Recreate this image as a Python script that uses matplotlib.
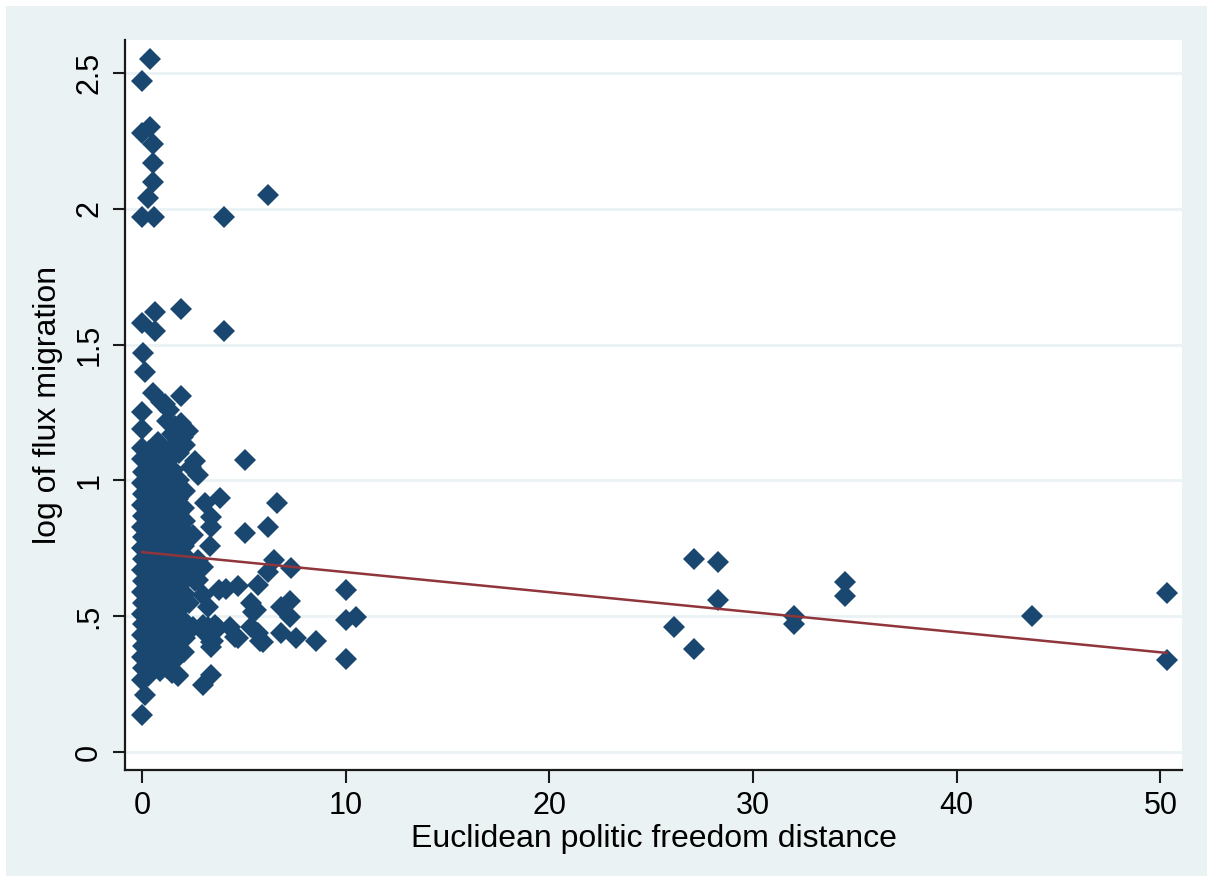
import matplotlib
matplotlib.use("Agg")
import matplotlib.pyplot as plt
from matplotlib.patches import Rectangle

# ── data ─────────────────────────────────────────────────
# isolated high values near the y axis
top_x = [0.4, 0.0, 0.0, 0.4, 0.55, 0.55, 0.55, 0.3, 0.0, 0.6, 4.0, 6.2,
         0.0, 0.65, 1.9, 0.65, 4.0, 0.05, 0.15, 1.9, 5.05]
top_y = [2.55, 2.47, 2.28, 2.30, 2.24, 2.17, 2.10, 2.04, 1.97, 1.97, 1.97, 2.05,
         1.58, 1.62, 1.63, 1.55, 1.55, 1.47, 1.40, 1.31, 1.075]

# dense block, distance 0 - 2.8
cluster_x = [
    0.55, 0.95, 1.3, 1.1, 0.0, 0.0, 1.9, 2.26, 1.45, 0.8, 1.6, 1.2, 0.35, 0.6, 1.05, 1.7, 2.0, 2.6, 2.75, 2.4, 0.0,
    0.0, 0.05, 0.0, 0.02, 0.0, 0.05, 0.0, 0.03, 0.0, 0.05, 0.0, 0.02, 0.0, 0.05, 0.0, 0.03, 0.0, 0.05, 0.0, 0.02, 0.0, 0.15, 0.0,
    0.3, 0.28, 0.32, 0.3, 0.27, 0.33, 0.3, 0.28, 0.31, 0.3, 0.29, 0.32, 0.3, 0.27, 0.3, 0.33, 0.3, 0.28, 0.31, 0.3,
    0.6, 0.62, 0.58, 0.6, 0.63, 0.57, 0.6, 0.61, 0.59, 0.6, 0.62, 0.58, 0.6, 0.61, 0.59, 0.6, 0.63, 0.58, 0.6,
    0.9, 0.88, 0.92, 0.9, 0.87, 0.93, 0.9, 0.88, 0.91, 0.9, 0.89, 0.92, 0.9, 0.87, 0.9, 0.93, 0.9, 0.88, 0.91, 0.9,
    1.2, 1.22, 1.18, 1.2, 1.23, 1.17, 1.2, 1.21, 1.19, 1.2, 1.22, 1.18, 1.2, 1.21, 1.19, 1.2, 1.23, 1.18, 1.2,
    1.5, 1.52, 1.48, 1.5, 1.53, 1.47, 1.5, 1.51, 1.49, 1.5, 1.52, 1.48, 1.5, 1.51, 1.49, 1.5, 1.53, 1.48,
    1.8, 1.82, 1.78, 1.8, 1.83, 1.77, 1.8, 1.81, 1.79, 1.8, 1.82, 1.78, 1.8, 1.81, 1.79, 1.77,
    2.1, 2.12, 2.08, 2.1, 2.13, 2.07, 2.1, 2.11, 2.09, 2.1, 2.12, 2.08,
    2.5, 2.4, 2.6, 2.3, 2.5, 1.28, 1.77,
]
cluster_y = [
    1.32, 1.29, 1.26, 1.28, 1.25, 1.19, 1.21, 1.18, 1.17, 1.14, 1.20, 1.22, 1.11, 1.12, 1.12, 1.14, 1.16, 1.07, 1.02, 1.05, 1.12,
    1.08, 1.03, 0.99, 0.95, 0.91, 0.87, 0.83, 0.79, 0.75, 0.71, 0.67, 0.63, 0.59, 0.55, 0.51, 0.47, 0.43, 0.39, 0.35, 0.31, 0.265, 0.21, 0.135,
    1.06, 1.01, 0.97, 0.92, 0.88, 0.84, 0.80, 0.76, 0.72, 0.68, 0.64, 0.60, 0.56, 0.52, 0.48, 0.44, 0.40, 0.36, 0.32, 0.28,
    1.09, 1.04, 0.99, 0.94, 0.90, 0.86, 0.81, 0.77, 0.73, 0.69, 0.65, 0.61, 0.57, 0.53, 0.49, 0.45, 0.41, 0.37, 0.33,
    1.10, 1.05, 1.00, 0.96, 0.92, 0.87, 0.83, 0.78, 0.74, 0.70, 0.66, 0.62, 0.58, 0.54, 0.50, 0.46, 0.42, 0.38, 0.34, 0.30,
    1.07, 1.02, 0.98, 0.93, 0.89, 0.85, 0.80, 0.76, 0.72, 0.67, 0.63, 0.59, 0.55, 0.51, 0.47, 0.43, 0.39, 0.35, 0.31,
    1.09, 1.04, 0.95, 0.91, 0.86, 0.82, 0.77, 0.73, 0.69, 0.64, 0.60, 0.56, 0.50, 0.46, 0.42, 0.38, 0.33, 0.29,
    1.10, 1.00, 0.93, 0.88, 0.84, 0.79, 0.74, 0.70, 0.66, 0.61, 0.57, 0.52, 0.44, 0.40, 0.36, 0.28,
    1.13, 0.96, 0.90, 0.85, 0.81, 0.76, 0.72, 0.65, 0.58, 0.48, 0.42, 0.37,
    0.80, 0.69, 0.63, 0.55, 0.46, 0.33, 0.283,
]

# scattered points, distance 2.8 - 11
mid_x = [3.1, 3.84, 3.4, 3.4, 3.35, 2.75, 2.75, 3.0, 3.25, 3.8, 3.0, 3.0, 3.5,
         3.25, 3.74, 4.57, 3.4, 4.33, 4.72, 3.1, 3.6, 3.4, 3.4, 3.0, 4.1,
         4.7, 5.7, 6.5, 6.2, 7.33, 5.36, 5.6, 5.36, 5.8, 6.8, 7.28, 7.28, 6.8,
         7.57, 8.56, 5.05, 6.2, 6.6, 5.46, 5.7, 5.95, 10.0, 10.0, 10.5, 10.0]
mid_y = [0.915, 0.935, 0.865, 0.83, 0.76, 0.707, 0.633, 0.578, 0.534, 0.596, 0.68, 0.468, 0.41,
         0.46, 0.457, 0.423, 0.387, 0.46, 0.42, 0.438, 0.468, 0.405, 0.283, 0.247, 0.60,
         0.61, 0.615, 0.707, 0.663, 0.677, 0.549, 0.523, 0.46, 0.41, 0.534, 0.556, 0.497, 0.438,
         0.42, 0.409, 0.805, 0.83, 0.915, 0.515, 0.438, 0.405, 0.596, 0.486, 0.497, 0.342]

# far right points
far_x = [26.1, 27.1, 27.1, 28.3, 28.3, 32.0, 32.0, 34.5, 34.5, 43.7, 50.3, 50.3]
far_y = [0.46, 0.71, 0.38, 0.70, 0.56, 0.50, 0.47, 0.625, 0.575, 0.50, 0.585, 0.34]

# linear fit
fit_x = [0.0, 50.3]
fit_y = [0.736, 0.365]

y_ticks = [0, 0.5, 1, 1.5, 2, 2.5]
y_ticklabels = ["0", ".5", "1", "1.5", "2", "2.5"]
x_ticks = [0, 10, 20, 30, 40, 50]

# ── figure ──────────────────────────────────────────────
plt.rcParams["font.family"] = ["Liberation Sans", "DejaVu Sans"]
BG = "#eaf2f3"
NAVY = "#1a476f"
MAROON = "#90353b"

fig = plt.figure(figsize=(12.11, 8.86), dpi=100)
fig.patch.set_facecolor("white")
fig.patches.append(Rectangle((6 / 1211, 10 / 886), 1201 / 1211, 870 / 886,
                             transform=fig.transFigure, facecolor=BG,
                             edgecolor="none", zorder=-10))

ax = fig.add_axes([125 / 1211, 1 - 770 / 886, 1057 / 1211, 730 / 886])
ax.set_facecolor("white")

for xs, ys in [(top_x, top_y), (cluster_x, cluster_y), (mid_x, mid_y), (far_x, far_y)]:
    ax.plot(xs, ys, linestyle="none", marker="D", markersize=11.5,
            color=NAVY, markeredgewidth=0, zorder=3)
ax.plot(fit_x, fit_y, color=MAROON, linewidth=1.8, zorder=4)

ax.set_xlim(-0.84, 51.06)
ax.set_ylim(-0.066, 2.621)
ax.set_yticks(y_ticks)
ax.set_yticklabels(y_ticklabels, rotation=90, va="center")
ax.set_xticks(x_ticks)

ax.grid(axis="y", color=BG, linewidth=2.0, zorder=0)
ax.set_axisbelow(True)
for s in ["top", "right"]:
    ax.spines[s].set_visible(False)
for s in ["left", "bottom"]:
    ax.spines[s].set_linewidth(1.6)
    ax.spines[s].set_color("#1a1a1a")

ax.tick_params(axis="both", direction="out", length=9, width=1.5,
               labelsize=22, color="#1a1a1a", pad=6)

ax.set_xlabel("Euclidean politic freedom distance", fontsize=23, labelpad=2)
ax.set_ylabel("log of flux migration", fontsize=23, labelpad=8)

fig.savefig("out.png", dpi=100)
